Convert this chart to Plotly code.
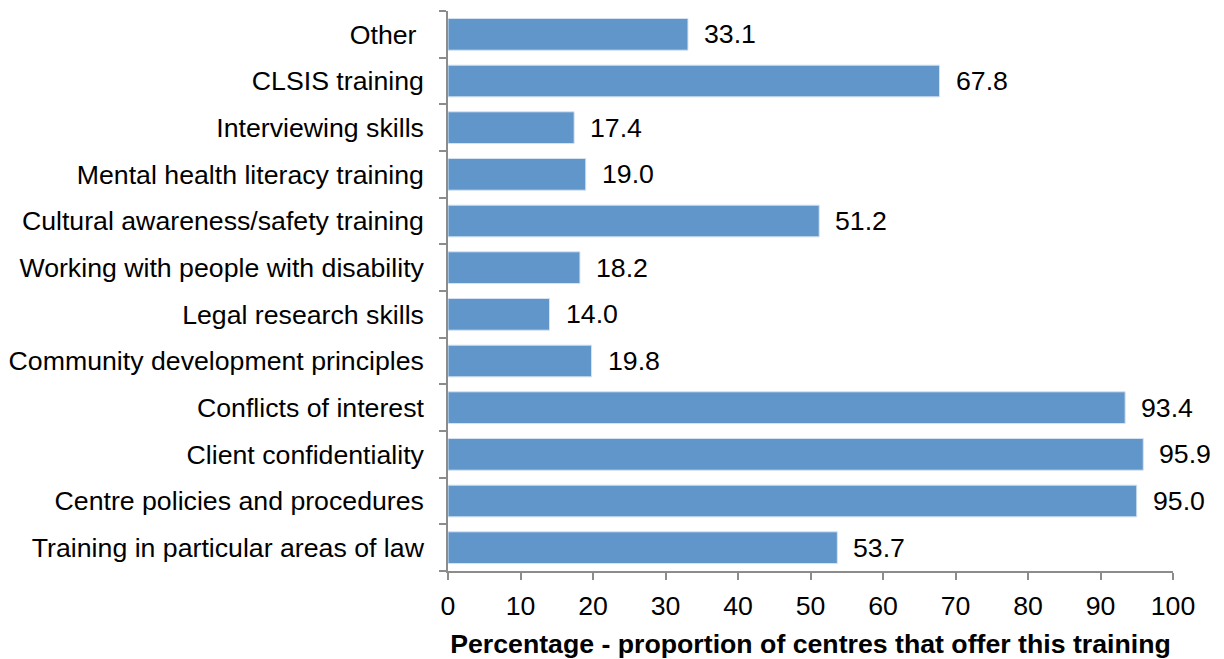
import plotly.graph_objects as go

# Training areas, listed bottom-to-top as they appear on the y axis
categories = [
    "Training in particular areas of law",
    "Centre policies and procedures",
    "Client confidentiality",
    "Conflicts of interest",
    "Community development principles",
    "Legal research skills",
    "Working with people with disability",
    "Cultural awareness/safety training",
    "Mental health literacy training",
    "Interviewing skills",
    "CLSIS training",
    "Other ",
]
percentages = [53.7, 95.0, 95.9, 93.4, 19.8, 14.0, 18.2, 51.2, 19.0, 17.4, 67.8, 33.1]
x_ticks = [0, 10, 20, 30, 40, 50, 60, 70, 80, 90, 100]

FONT = "Liberation Sans, Arial, sans-serif"
FS = 26.7
AXIS_GREY = "#8c8c8c"

fig = go.Figure(
    go.Bar(
        x=percentages,
        y=categories,
        orientation="h",
        marker=dict(color="#6096CA", line=dict(color="#d6e3f1", width=1)),
        width=0.68,
        hoverinfo="x+y",
    )
)

# value labels sitting just past the end of each bar
for cat, val in zip(categories, percentages):
    fig.add_annotation(
        x=val,
        y=cat,
        text=f"{val:.1f}",
        showarrow=False,
        xanchor="left",
        yanchor="middle",
        xshift=14,
        font=dict(family=FONT, size=FS, color="#000000"),
    )

fig.update_layout(
    width=1224,
    height=659,
    margin=dict(l=448, r=51, t=11, b=88),
    paper_bgcolor="white",
    plot_bgcolor="white",
    showlegend=False,
    font=dict(family=FONT, size=FS, color="#000000"),
)

fig.update_xaxes(
    range=[0, 100],
    tickvals=x_ticks,
    ticktext=[str(t) for t in x_ticks],
    showgrid=False,
    zeroline=False,
    showline=True,
    linecolor=AXIS_GREY,
    linewidth=1.5,
    ticks="outside",
    ticklen=7,
    tickcolor=AXIS_GREY,
    tickwidth=1.5,
    ticklabelstandoff=3,
    automargin=False,
    tickfont=dict(family=FONT, size=FS, color="#000000"),
    title=dict(
        text="<b>Percentage - proportion of centres that offer this training</b>",
        font=dict(family=FONT, size=FS, color="#000000"),
        standoff=17,
    ),
)

fig.update_yaxes(
    categoryorder="array",
    categoryarray=categories,
    showgrid=False,
    zeroline=False,
    showline=True,
    linecolor=AXIS_GREY,
    linewidth=1.5,
    ticks="outside",
    ticklen=7,
    tickcolor=AXIS_GREY,
    tickwidth=1.5,
    tickson="boundaries",
    ticklabelstandoff=17,
    automargin=False,
    tickfont=dict(family=FONT, size=FS, color="#000000"),
)

fig.write_html("out.html")
